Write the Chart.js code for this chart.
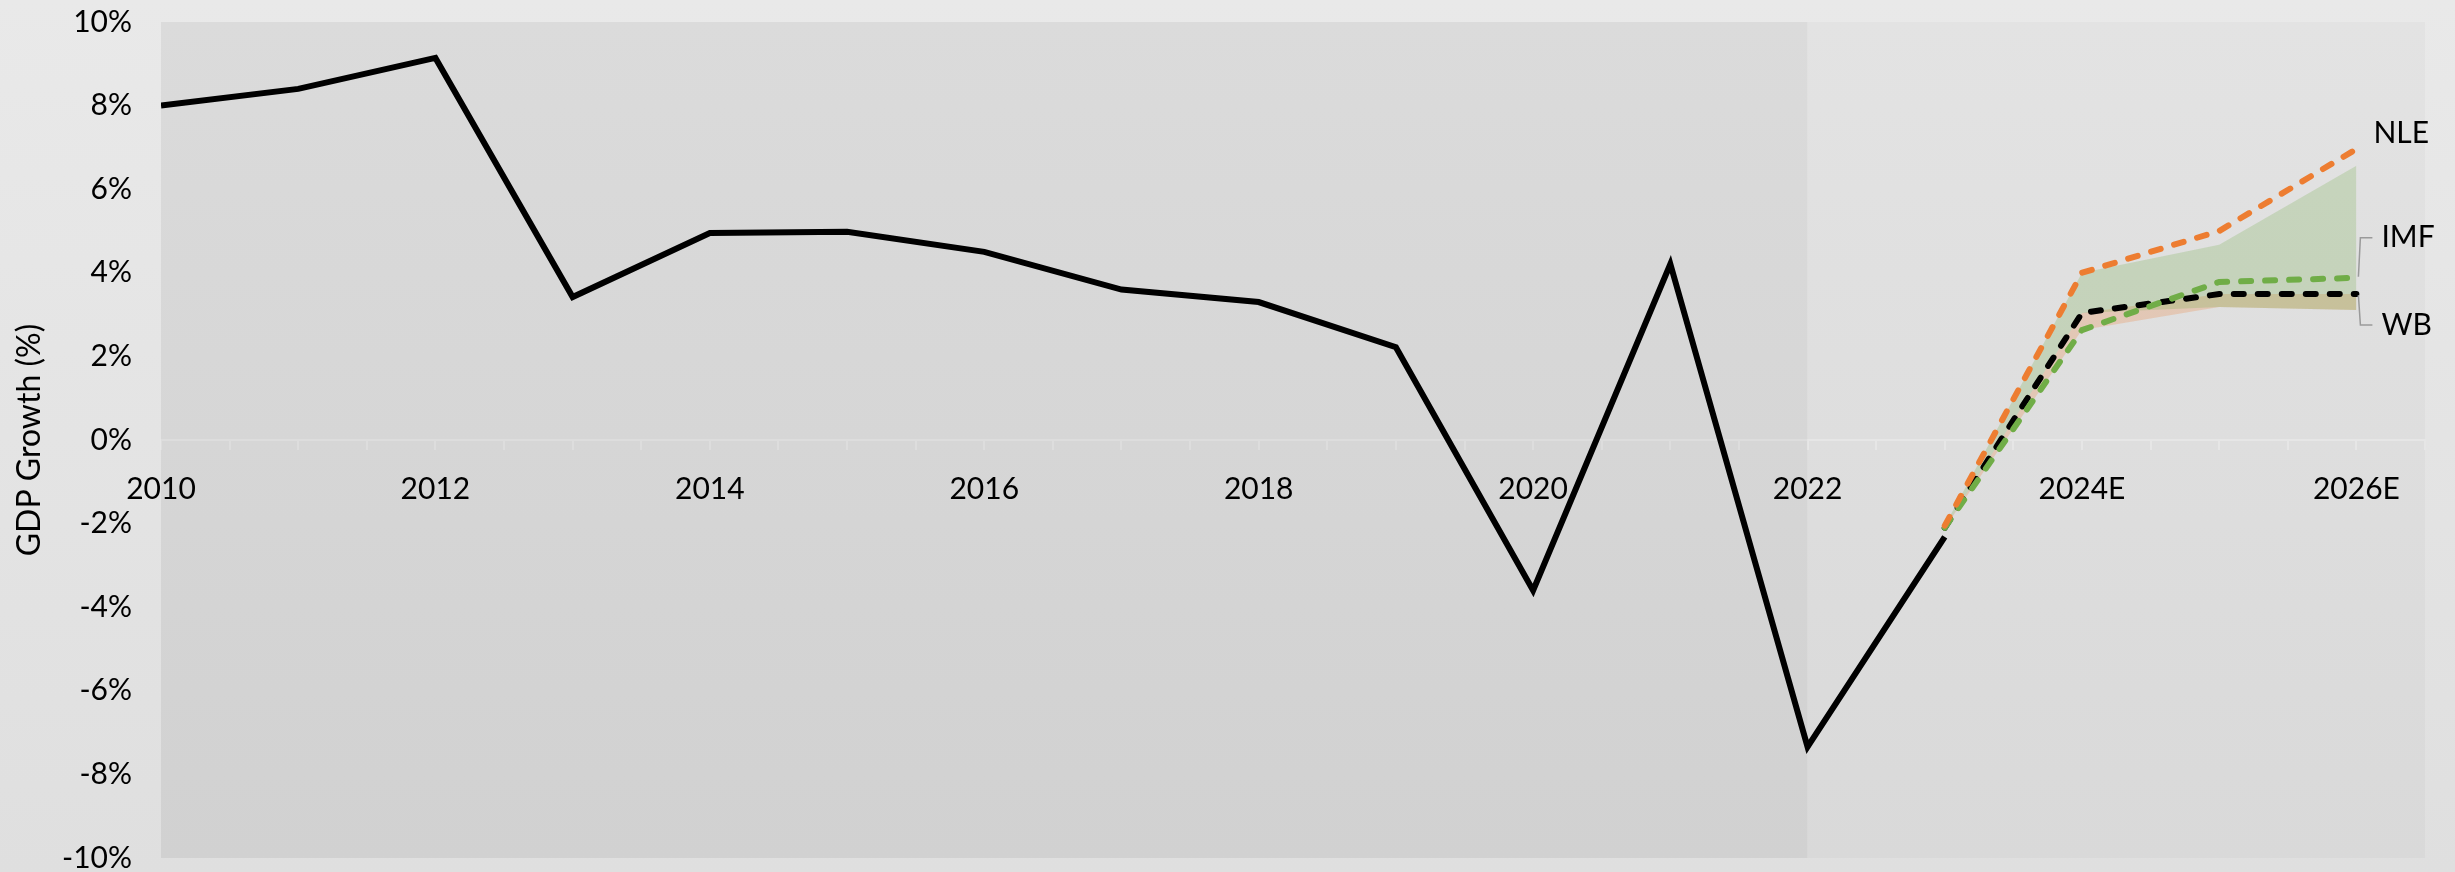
<!DOCTYPE html>
<html lang="en">
<head>
  <meta charset="UTF-8">
  <title>GDP Growth</title>
  <script src="https://cdn.jsdelivr.net/npm/chart.js"></script>
  <style>
    body { margin: 0; background: #e4e4e4; }
    #wrap { width: 2455px; height: 872px; position: relative; }
  </style>
</head>
<body>
  <div id="wrap"><canvas id="gdpChart"></canvas></div>

  <script>
    // actual growth, %
    const years = [2010, 2011, 2012, 2013, 2014, 2015, 2016, 2017, 2018, 2019, 2020, 2021, 2022, 2023];
    const actual = [8.0, 8.4, 9.14, 3.42, 4.95, 4.98, 4.5, 3.6, 3.3, 2.22, -3.6, 4.21, -7.34, -2.32];

    // forecasts, %
    const fcYears = [2023, 2024, 2025, 2026];
    const nle = [-2.05, 4.0, 5.0, 6.96];
    const imf = [-2.1, 2.63, 3.78, 3.88];
    const wb = [-2.1, 3.04, 3.49, 3.49];

    // shaded ranges behind the forecasts
    const bandTop = [-2.05, 4.0, 4.67, 6.56];
    const bandBottom = [-2.1, 3.04, 3.18, 3.11];
    const wbBandBottom = [-2.1, 2.63, 3.18, 3.11];

    // historic period shading
    const histYears = [2010, 2022];
    const histTop = [10, 10];

    const tickYears = [2010, 2012, 2014, 2016, 2018, 2020, 2022, 2024, 2026];
    const tickLabels = ['2010', '2012', '2014', '2016', '2018', '2020', '2022', '2024E', '2026E'];

    const seriesLabels = ['NLE', 'IMF', 'WB'];

    const FONT = 'Lato, "Open Sans", sans-serif';
    const pts = (xs, ys) => xs.map((x, i) => ({ x: x, y: ys[i] }));

    const bgPlugin = {
      id: 'bg',
      beforeDraw(chart) {
        const { ctx, width, height, chartArea: a } = chart;
        ctx.save();
        let g = ctx.createLinearGradient(0, 0, 0, height);
        g.addColorStop(0, '#e9e9e9');
        g.addColorStop(1, '#dfdfdf');
        ctx.fillStyle = g;
        ctx.fillRect(0, 0, width, height);
        g = ctx.createLinearGradient(0, a.top, 0, a.bottom);
        g.addColorStop(0, '#e3e3e3');
        g.addColorStop(1, '#d9d9d9');
        ctx.fillStyle = g;
        ctx.fillRect(a.left, a.top, a.right - a.left, a.bottom - a.top);
        ctx.restore();
      }
    };

    // end labels with small leader lines
    const endLabels = {
      id: 'endLabels',
      afterDatasetsDraw(chart) {
        const ctx = chart.ctx;
        const spots = [
          { ds: 0, dx: 17, dy: -16, lead: false },
          { ds: 1, dx: 25, dy: -40, lead: true },
          { ds: 2, dx: 25, dy: 31, lead: true }
        ];
        ctx.save();
        ctx.font = '30px ' + FONT;
        ctx.fillStyle = '#000';
        ctx.textAlign = 'left';
        ctx.textBaseline = 'middle';
        spots.forEach((s, i) => {
          const meta = chart.getDatasetMeta(s.ds);
          const p = meta.data[meta.data.length - 1];
          if (s.lead) {
            ctx.strokeStyle = '#9a9a9a';
            ctx.lineWidth = 1.5;
            ctx.beginPath();
            ctx.moveTo(p.x + 2, p.y + (s.dy < 0 ? -1 : 1));
            ctx.lineTo(p.x + 4, p.y + s.dy);
            ctx.lineTo(p.x + 16, p.y + s.dy);
            ctx.stroke();
          }
          ctx.fillText(seriesLabels[i], p.x + s.dx, p.y + s.dy);
        });
        ctx.restore();
      }
    };

    const dashed = (label, ys, color) => ({
      label: label,
      data: pts(fcYears, ys),
      borderColor: color,
      borderWidth: 6,
      borderDash: [10, 14],
      borderCapStyle: 'round',
      pointRadius: 0,
      fill: false,
      tension: 0
    });

    const area = (ys, fill, bg) => ({
      data: pts(fcYears, ys),
      borderWidth: 0,
      pointRadius: 0,
      fill: fill,
      backgroundColor: bg
    });

    new Chart(document.getElementById('gdpChart'), {
      type: 'line',
      data: {
        datasets: [
          dashed('NLE', nle, '#ED7D31'),
          dashed('IMF', imf, '#70AD47'),
          dashed('WB', wb, '#000000'),
          {
            label: 'Actual',
            data: pts(years, actual),
            borderColor: '#000',
            borderWidth: 6,
            borderJoinStyle: 'miter',
            pointRadius: 0,
            fill: false
          },
          area(bandTop, '+1', 'rgba(112,173,71,0.24)'),
          area(bandBottom, false, 'transparent'),
          area(wb, '+1', 'rgba(237,125,49,0.24)'),
          area(wbBandBottom, false, 'transparent'),
          {
            data: pts(histYears, histTop),
            borderWidth: 0,
            pointRadius: 0,
            fill: 'start',
            backgroundColor: 'rgba(0,0,0,0.035)'
          }
        ]
      },
      options: {
        responsive: true,
        maintainAspectRatio: false,
        animation: false,
        layout: { padding: { top: 22, right: 30, bottom: 14, left: 0 } },
        plugins: {
          legend: { display: false },
          tooltip: { enabled: false }
        },
        scales: {
          x: {
            type: 'linear',
            position: { y: 0 },
            min: 2010,
            max: 2026.5,
            grid: { drawOnChartArea: false, drawTicks: true, tickLength: 9, color: '#e6e6e6', lineWidth: 2 },
            border: { display: true, color: '#e6e6e6', width: 2 },
            ticks: {
              stepSize: 0.5,
              autoSkip: false,
              maxRotation: 0,
              padding: 22,
              color: '#000',
              font: { family: FONT, size: 30 },
              callback: (v) => {
                const i = tickYears.indexOf(v);
                return i >= 0 ? tickLabels[i] : '';
              }
            }
          },
          y: {
            min: -10,
            max: 10,
            afterFit: (scale) => { scale.width = 161; },
            // invisible tick marks push the labels away from the plot
            grid: { display: true, drawOnChartArea: false, drawTicks: true, tickLength: 29, color: 'rgba(0,0,0,0)' },
            border: { display: false },
            ticks: {
              stepSize: 2,
              padding: 0,
              color: '#000',
              font: { family: FONT, size: 30, lineHeight: 0.9 },
              callback: (v) => v + '%'
            },
            title: {
              display: true,
              text: 'GDP Growth (%)',
              color: '#000',
              font: { family: FONT, size: 32 },
              padding: { top: 10, bottom: 0 }
            }
          }
        }
      },
      plugins: [bgPlugin, endLabels]
    });
  </script>
</body>
</html>
